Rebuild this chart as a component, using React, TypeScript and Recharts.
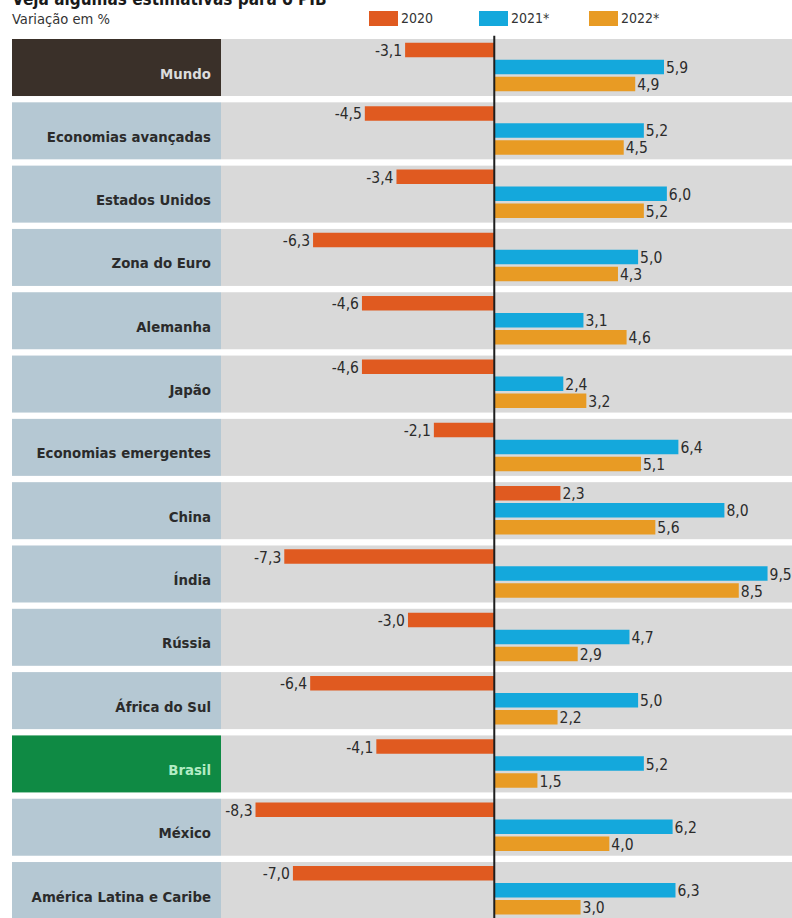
import React from 'react';
import {
  BarChart,
  Bar,
  XAxis,
  YAxis,
  ReferenceArea,
  ReferenceLine,
  Legend,
  LabelList,
} from 'recharts';

const categories = [
  'Mundo',
  'Economias avançadas',
  'Estados Unidos',
  'Zona do Euro',
  'Alemanha',
  'Japão',
  'Economias emergentes',
  'China',
  'Índia',
  'Rússia',
  'África do Sul',
  'Brasil',
  'México',
  'América Latina e Caribe',
];

const values2020 = [-3.1, -4.5, -3.4, -6.3, -4.6, -4.6, -2.1, 2.3, -7.3, -3.0, -6.4, -4.1, -8.3, -7.0];
const values2021 = [5.9, 5.2, 6.0, 5.0, 3.1, 2.4, 6.4, 8.0, 9.5, 4.7, 5.0, 5.2, 6.2, 6.3];
const values2022 = [4.9, 4.5, 5.2, 4.3, 4.6, 3.2, 5.1, 5.6, 8.5, 2.9, 2.2, 1.5, 4.0, 3.0];

const seriesNames = ['2020', '2021*', '2022*'];

const data = categories.map((name, i) => ({
  name,
  v2020: values2020[i],
  v2021: values2021[i],
  v2022: values2022[i],
}));

const FONT = "'DejaVu Sans Condensed', 'Liberation Sans Narrow', sans-serif";
const COLORS = ['#e05a20', '#14a8dc', '#e89b24'];
const BAND = 63.31;
const GAP = 6.3;

const panelFill: Record<string, string> = { Mundo: '#3a3029', Brasil: '#0f8a44' };
const panelText: Record<string, string> = { Mundo: '#dcdcdc', Brasil: '#b2ecc4' };

const fmt = (v: number) => v.toFixed(1).replace('.', ',');

function RowTick(props: any) {
  const { y, payload } = props;
  const name = payload.value;
  return (
    <g>
      <rect x={12} y={y - BAND / 2 + GAP / 2} width={209} height={BAND - GAP} fill={panelFill[name] || '#b5c8d3'} />
      <text
        x={211}
        y={y + 11}
        textAnchor="end"
        fontFamily={FONT}
        fontWeight="bold"
        fontSize={14.8}
        fill={panelText[name] || '#2b2b2b'}
      >
        {name}
      </text>
    </g>
  );
}

function ValueLabel(props: any) {
  const { x, y, width, height, value } = props;
  const left = Math.min(x, x + width);
  const right = Math.max(x, x + width);
  const neg = value < 0;
  return (
    <text
      x={neg ? left - 3 : right + 2}
      y={y + height / 2 + 1}
      textAnchor={neg ? 'end' : 'start'}
      dominantBaseline="central"
      fontFamily={FONT}
      fontSize={15.5}
      fill="#2b2b2b"
    >
      {fmt(value)}
    </text>
  );
}

function LegendContent(props: any) {
  const { payload } = props;
  return (
    <div style={{ display: 'flex', fontFamily: FONT, fontSize: 14, color: '#333' }}>
      {(payload || []).map((p: any) => (
        <div key={p.value} style={{ width: 110, display: 'flex', alignItems: 'center' }}>
          <span style={{ display: 'inline-block', width: 29, height: 15, background: p.color, marginRight: 3 }} />
          <span>{p.value}</span>
        </div>
      ))}
    </div>
  );
}

export default function App() {
  return (
    <div style={{ position: 'absolute', left: 0, top: 0, width: 792, height: 918, overflow: 'hidden', background: '#fff' }}>
      <div
        style={{
          position: 'absolute',
          left: 12,
          top: -11,
          fontFamily: FONT,
          fontWeight: 'bold',
          fontSize: 17,
          color: '#1a1a1a',
          whiteSpace: 'nowrap',
        }}
      >
        Veja algumas estimativas para o PIB
      </div>
      <div
        style={{
          position: 'absolute',
          left: 12,
          top: 10,
          fontFamily: FONT,
          fontSize: 14.6,
          color: '#333',
          whiteSpace: 'nowrap',
        }}
      >
        Variação em %
      </div>
      <BarChart
        width={792}
        height={930}
        data={data}
        layout="vertical"
        margin={{ top: 35.85, right: 0, bottom: 7.8, left: 12 }}
        barSize={14.5}
        barGap={2.5}
      >
        <XAxis type="number" domain={[-9.5, 10.35]} hide allowDataOverflow />
        <YAxis
          type="category"
          dataKey="name"
          width={209}
          axisLine={false}
          tickLine={false}
          interval={0}
          tick={<RowTick />}
        />
        {categories.map((c) => (
          <ReferenceArea
            key={c}
            y1={c}
            y2={c}
            ifOverflow="visible"
            shape={(p: any) => (
              <rect x={p.x} y={p.y + GAP / 2} width={p.width} height={p.height - GAP} fill="#d9d9d9" />
            )}
          />
        ))}
        <Legend
          verticalAlign="middle"
          align="center"
          layout="horizontal"
          wrapperStyle={{ top: 10, left: 369, width: 340 }}
          content={<LegendContent />}
        />
        <Bar dataKey="v2020" name={seriesNames[0]} fill={COLORS[0]} isAnimationActive={false}>
          <LabelList dataKey="v2020" content={<ValueLabel />} />
        </Bar>
        <Bar dataKey="v2021" name={seriesNames[1]} fill={COLORS[1]} isAnimationActive={false}>
          <LabelList dataKey="v2021" content={<ValueLabel />} />
        </Bar>
        <Bar dataKey="v2022" name={seriesNames[2]} fill={COLORS[2]} isAnimationActive={false}>
          <LabelList dataKey="v2022" content={<ValueLabel />} />
        </Bar>
        <ReferenceLine x={0} stroke="#1e1e1e" strokeWidth={2} ifOverflow="visible" />
      </BarChart>
    </div>
  );
}
